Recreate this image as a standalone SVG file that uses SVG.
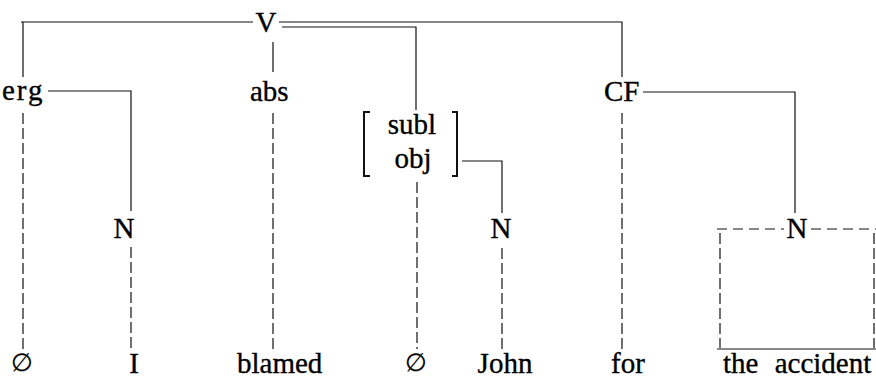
<svg xmlns="http://www.w3.org/2000/svg" width="876" height="379" viewBox="0 0 876 379">
<style>
text{font-family:"Liberation Serif","Times New Roman",serif;font-size:29px;fill:#000;stroke:#000;stroke-width:0.35}
.m{text-anchor:middle}
.e{font-family:"DejaVu Serif",serif;font-size:25px;stroke-width:0.2}
.s{fill:none;stroke:#111;stroke-width:1.2}
.b{fill:none;stroke:#111;stroke-width:2}
.d{fill:none;stroke:#111;stroke-width:1.2;stroke-dasharray:11 4}
.h{fill:none;stroke:#111;stroke-width:1.2;stroke-dasharray:10 6}
</style>
<rect width="876" height="379" fill="#fff"/>
<g id="connectors">
<path class="s" d="M21 22H253M279 22H622V77M23 22V77M282 27H416V110M273 42V72M48 91H131V211M462 161H502V213M643 92H795V213M717 349H876"/>
<path class="d" d="M23 113V349M131 247V349M273 113V349M417 182V349M502 248V349M622 113V349M720 233V348M874 233V348"/>
<path class="h" d="M717 229H784M811 229H876"/>
</g>
<g id="V"><text class="m" x="266" y="32">V</text></g>
<g id="erg"><text x="2" y="100" letter-spacing="2">erg</text></g>
<g id="abs"><text x="250" y="101">abs</text></g>
<g id="subl-obj">
<path class="b" d="M370 112H364V176H370M452 112H457V176H452"/>
<text class="m" x="412" y="134">subl</text>
<text class="m" x="413" y="168">obj</text>
</g>
<g id="CF"><text x="604" y="101">CF</text></g>
<g id="N1"><text class="m" x="124" y="238">N</text></g>
<g id="N2"><text class="m" x="501" y="238">N</text></g>
<g id="N3"><text class="m" x="797" y="238">N</text></g>
<g id="w-null1"><text class="m e" x="22" y="371">∅</text></g>
<g id="w-I"><text class="m" x="134" y="373">I</text></g>
<g id="w-blamed"><text x="237" y="373">blamed</text></g>
<g id="w-null2"><text class="m e" x="416" y="371">∅</text></g>
<g id="w-John"><text class="m" x="505" y="373">John</text></g>
<g id="w-for"><text x="611" y="373">for</text></g>
<g id="w-accident"><text x="723" y="373" word-spacing="9">the accident</text></g>
</svg>
